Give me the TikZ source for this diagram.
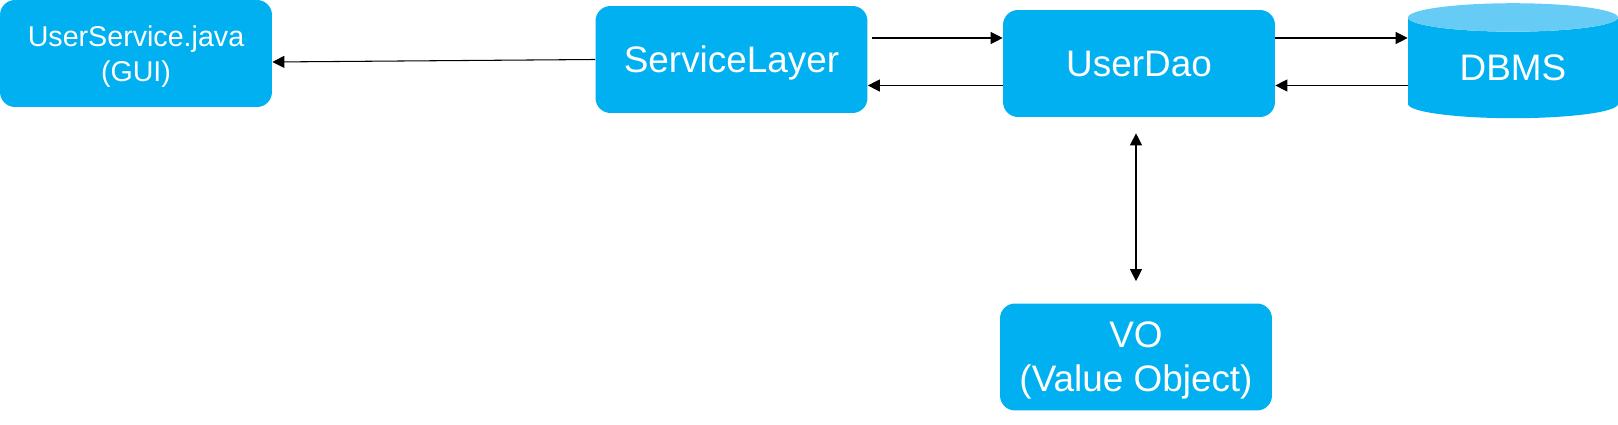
\documentclass[tikz,border=0pt]{standalone}
\usepackage{fontspec}
\setmainfont{Liberation Sans}
\usetikzlibrary{shapes.geometric,arrows.meta,positioning}
\definecolor{boxblue}{HTML}{00B0F0}
\definecolor{capblue}{HTML}{66CCF5}
\tikzset
{
    layer/.style = {rectangle, rounded corners=0.3cm, fill=boxblue, text=white, align=center, text depth=0pt, minimum width=5.44cm, minimum height=2.14cm, font=\fontsize{21}{25}\selectfont},
    small/.style = {font=\fontsize{16.3}{19.8}\selectfont},
    store/.style = {cylinder, shape border rotate=90, aspect=0.267, cylinder uses custom fill, cylinder body fill=boxblue, cylinder end fill=capblue, text=white, minimum width=4.2cm, minimum height=2.3cm, inner sep=0pt, font=\fontsize{21}{22.7}\selectfont},
    link/.style = {line width=0.6pt, >={Triangle[length=0.24cm,width=0.24cm]}, ->}
}

\begin{document}
\begin{tikzpicture}[x=0.02cm, y=-0.02cm]
   \useasboundingbox (0,0) rectangle (1618,425);

   % rows of the horizontal connectors
   \coordinate (guirow) at (0, 62);
   \coordinate (upper)  at (0, 38);
   \coordinate (lower)  at (0, 85.5);

   \node (gui) [layer, small]  at (136, 53.5)   {UserService.java \\ (GUI)};
   \node (svc) [layer]         at (731.5, 59.5) {ServiceLayer};
   \node (dao) [layer]         at (1139, 63.5)  {UserDao};
   \node (vo)  [layer]         at (1136, 357)   {VO \\ (Value Object)};
   \node (db)  [store]         at (1513, 68)    {DBMS};

   \path
      (svc.west)           edge[link]  node {} (gui.east |- guirow)
      (svc.east |- upper)  edge[link, shorten <=0.08cm]  node {} (dao.west |- upper)
      (dao.west |- lower)  edge[link]  node {} (svc.east |- lower)
      (dao.east |- upper)  edge[link]  node {} (db.west |- upper)
      (db.west |- lower)   edge[link]  node {} (dao.east |- lower)
      (vo.north |- dao.south) edge[link, <->, shorten <=0.32cm, shorten >=0.44cm] node {} (vo.north);
\end{tikzpicture}
\end{document}
